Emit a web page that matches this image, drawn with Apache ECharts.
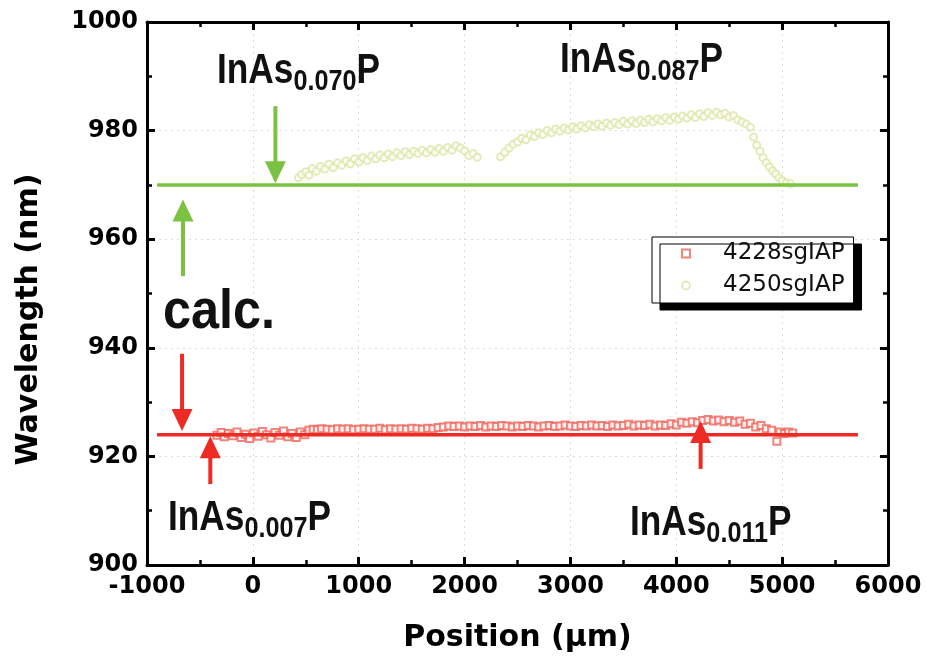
<!DOCTYPE html>
<html>
<head>
<meta charset="utf-8">
<script src="https://cdn.jsdelivr.net/npm/echarts@6/dist/echarts.min.js"></script>
<style>
  html, body { margin: 0; padding: 0; background: #fff; }
  #chart { width: 927px; height: 665px; }
</style>
</head>
<body>
<div id="chart"></div>
<script>
// Axis ranges
const xRange = [-1000, 6000];
const yRange = [900, 1000];

// Measured wavelength along the wafer, sample 4228sgIAP (µm, nm)
const sample4228 = [
  [-340, 923.9], [-300, 924.4], [-270, 923.6], [-230, 924.2], [-190, 923.8], [-150, 924.5],
  [-110, 923.5], [-70, 924.1], [-30, 923.3], [10, 924.3], [50, 923.7], [90, 924.6],
  [130, 924.0], [170, 923.4], [210, 924.4], [250, 923.9], [290, 924.7], [330, 923.6],
  [370, 924.2], [410, 923.5], [450, 924.5], [490, 924.0], [530, 924.8], [570, 925.0],
  [610, 924.9], [650, 925.1], [700, 925.0], [750, 924.9], [800, 925.1], [850, 925.0],
  [900, 925.1], [950, 924.9], [1000, 925.0], [1050, 925.1], [1100, 925.0], [1150, 925.0],
  [1200, 925.2], [1250, 924.9], [1300, 925.1], [1350, 925.0], [1400, 925.1], [1450, 925.0],
  [1500, 925.2], [1550, 925.1], [1600, 925.0], [1650, 925.2], [1700, 925.1], [1750, 925.3],
  [1800, 925.4], [1850, 925.6], [1900, 925.5], [1950, 925.6], [2000, 925.4], [2050, 925.6],
  [2100, 925.5], [2150, 925.7], [2200, 925.4], [2250, 925.6], [2300, 925.5], [2350, 925.7],
  [2400, 925.6], [2450, 925.4], [2500, 925.6], [2550, 925.5], [2600, 925.7], [2650, 925.6],
  [2700, 925.4], [2750, 925.6], [2800, 925.7], [2850, 925.5], [2900, 925.6], [2950, 925.8],
  [3000, 925.6], [3050, 925.5], [3100, 925.7], [3150, 925.6], [3200, 925.8], [3250, 925.6],
  [3300, 925.7], [3350, 925.5], [3400, 925.8], [3450, 925.6], [3500, 925.7], [3550, 925.9],
  [3600, 925.6], [3650, 925.8], [3700, 925.7], [3750, 925.9], [3800, 925.6], [3850, 925.8],
  [3900, 925.7], [3950, 926.0], [4000, 925.8], [4050, 926.3], [4100, 926.1], [4150, 926.4],
  [4200, 926.2], [4250, 926.6], [4300, 926.8], [4350, 926.5], [4400, 926.7], [4450, 926.4],
  [4500, 926.6], [4550, 926.3], [4600, 926.5], [4650, 925.9], [4700, 926.1], [4750, 925.4],
  [4800, 925.7], [4850, 925.1], [4900, 924.8], [4950, 922.8], [4980, 924.5], [5020, 924.2],
  [5060, 924.5], [5100, 924.3]
];

// Measured wavelength along the wafer, sample 4250sgIAP (µm, nm)
const sample4250 = [
  [430, 971.3], [460, 971.9], [500, 972.4], [530, 971.8], [560, 973.0], [600, 972.5],
  [640, 973.4], [680, 972.9], [720, 973.8], [760, 973.2], [800, 974.1], [840, 973.6],
  [880, 974.4], [920, 973.9], [960, 974.8], [1000, 974.2], [1040, 975.0], [1080, 974.5],
  [1120, 975.3], [1160, 974.8], [1200, 975.5], [1240, 975.0], [1280, 975.7], [1320, 975.2],
  [1360, 975.9], [1400, 975.4], [1440, 976.1], [1480, 975.6], [1520, 976.2], [1560, 975.8],
  [1600, 976.4], [1640, 975.9], [1680, 976.5], [1720, 976.0], [1760, 976.7], [1800, 976.2],
  [1840, 976.9], [1880, 976.4], [1920, 977.2], [1960, 976.8], [2000, 976.3], [2040, 975.4],
  [2080, 975.8], [2120, 975.1],
  [2340, 975.2], [2380, 976.0], [2420, 976.8], [2460, 977.5], [2500, 977.9], [2540, 978.6],
  [2580, 978.3], [2620, 979.2], [2660, 978.9], [2700, 979.6], [2740, 979.3], [2780, 980.0],
  [2820, 979.6], [2860, 980.3], [2900, 979.9], [2940, 980.5], [2980, 980.1], [3020, 980.7],
  [3060, 980.3], [3100, 980.9], [3140, 980.5], [3180, 981.1], [3220, 980.7], [3260, 981.2],
  [3300, 980.8], [3340, 981.4], [3380, 981.0], [3420, 981.5], [3460, 981.1], [3500, 981.7],
  [3540, 981.2], [3580, 981.8], [3620, 981.3], [3660, 981.9], [3700, 981.5], [3740, 982.1],
  [3780, 981.6], [3820, 982.2], [3860, 981.8], [3900, 982.4], [3940, 981.9], [3980, 982.5],
  [4020, 982.1], [4060, 982.7], [4100, 982.3], [4140, 982.9], [4180, 982.4], [4220, 983.1],
  [4260, 982.6], [4300, 983.3], [4340, 982.8], [4380, 983.4], [4420, 982.9], [4460, 983.2],
  [4500, 982.5], [4540, 982.8], [4580, 982.0], [4620, 981.6], [4660, 981.2], [4700, 980.6],
  [4730, 978.8], [4760, 977.3], [4790, 976.2], [4820, 975.0], [4850, 974.1], [4880, 973.3],
  [4910, 972.6], [4940, 972.0], [4970, 971.3], [5000, 970.8], [5040, 970.4], [5080, 970.2]
];

// Calculated wavelengths (nm) drawn as horizontal reference lines
const calcSpan = [-905, 5716];
const calcGreen = 970;
const calcRed = 924;

// Arrows: [x (µm), tail (nm), tip (nm)]
const arrowsGreen = [[213, 984.5, 970.3], [-660, 953.2, 967.3]];
const arrowsRed = [[-669, 938.9, 924.7], [-402, 914.9, 923.7], [4230, 917.7, 926.5]];

// Composition labels: anchor [x, y] of top-left corner, and subscript text
const formulaAnchors = [[-339, 994.8], [2901, 996.7], [-802, 912.4], [3562, 911.6]];
const formulaSubs = ['0.070', '0.087', '0.007', '0.011'];
const calcAnchor = [[-849, 946.4]];

const seriesNames = ['4228sgIAP', '4250sgIAP'];

const GREEN = '#7cc242';
const RED = '#ee2a24';
const INK = '#111111';
const LABEL_FONT = "'DejaVu Sans', 'Liberation Sans', sans-serif";
const ARIAL_FONT = "'Liberation Sans', Arial, sans-serif";

function lineFromSpan(y) {
  return [[calcSpan[0], y], [calcSpan[1], y]];
}

function arrowRenderer(color) {
  return function (params, api) {
    const x = api.value(0);
    const tail = api.coord([x, api.value(1)]);
    const tip = api.coord([x, api.value(2)]);
    const dir = tip[1] > tail[1] ? 1 : -1;
    const headLen = 22;
    const headHalf = 10.5;
    const baseY = tip[1] - dir * headLen;
    return {
      type: 'group',
      children: [
        {
          type: 'line',
          shape: { x1: tail[0], y1: tail[1], x2: tip[0], y2: baseY + dir * 2 },
          style: { stroke: color, lineWidth: 4 }
        },
        {
          type: 'polygon',
          shape: { points: [[tip[0], tip[1]], [tip[0] - headHalf, baseY], [tip[0] + headHalf, baseY]] },
          style: { fill: color }
        }
      ]
    };
  };
}

// Condensed bold chemical formula: InAs_x P with a lowered subscript
function formulaRenderer(params, api) {
  const p = api.coord([api.value(0), api.value(1)]);
  return {
    type: 'text',
    x: p[0],
    y: p[1],
    scaleX: 0.84,
    style: {
      text: '{m|InAs}{s|' + formulaSubs[params.dataIndex] + '}{m|P}',
      align: 'left',
      verticalAlign: 'top',
      fill: INK,
      rich: {
        m: { fontSize: 42, fontWeight: 'bold', fontFamily: ARIAL_FONT, lineHeight: 42, verticalAlign: 'top', fill: INK },
        s: { fontSize: 30, fontWeight: 'bold', fontFamily: ARIAL_FONT, lineHeight: 30, padding: [21, 0, 0, 0], fill: INK }
      }
    }
  };
}

function calcRenderer(params, api) {
  const p = api.coord([api.value(0), api.value(1)]);
  return {
    type: 'text',
    x: p[0],
    y: p[1],
    scaleX: 0.9,
    style: {
      text: 'calc.',
      align: 'left',
      verticalAlign: 'middle',
      fill: INK,
      fontSize: 56,
      fontWeight: 'bold',
      fontFamily: ARIAL_FONT
    }
  };
}

const plainNumber = v => String(v);
const tickLabel = { fontFamily: LABEL_FONT, fontWeight: 'bold', fontSize: 24, color: '#000', formatter: plainNumber };
const axisLine = { show: true, onZero: false, lineStyle: { color: '#000', width: 3 } };
const axisTick = { show: true, inside: true, length: 8, lineStyle: { color: '#000', width: 3 } };
const minorTick = { show: true, splitNumber: 2, length: 5, lineStyle: { color: '#000', width: 2.5 } };
const gridLine = { show: true, lineStyle: { type: [2, 4], color: '#dddddd', width: 1 } };

const chart = echarts.init(document.getElementById('chart'), null, { renderer: 'canvas' });

chart.setOption({
  backgroundColor: '#ffffff',
  animation: false,
  grid: { left: 147, right: 39, top: 22, bottom: 100, containLabel: false },
  legend: {
    data: seriesNames,
    orient: 'vertical',
    left: 652,
    top: 237,
    padding: [5, 9, 6, 29],
    itemWidth: 8,
    itemHeight: 8,
    itemGap: 9,
    backgroundColor: '#ffffff',
    borderColor: '#000',
    borderWidth: 1,
    shadowColor: '#000',
    shadowBlur: 0,
    shadowOffsetX: 8,
    shadowOffsetY: 7,
    textStyle: { fontFamily: LABEL_FONT, fontSize: 23, color: INK, lineHeight: 22, padding: [0, 0, 0, 28] }
  },
  xAxis: [
    {
      type: 'value', position: 'bottom', min: xRange[0], max: xRange[1], interval: 1000,
      axisLine, axisTick, minorTick,
      axisLabel: Object.assign({ margin: 10 }, tickLabel),
      splitLine: gridLine,
      name: 'Position (\u03bcm)', nameLocation: 'middle', nameGap: 58,
      nameTextStyle: { fontFamily: LABEL_FONT, fontWeight: 'bold', fontSize: 30, color: '#000' }
    },
    {
      type: 'value', position: 'top', min: xRange[0], max: xRange[1], interval: 1000,
      axisLine, axisTick, minorTick,
      axisLabel: { show: false }, splitLine: { show: false }
    }
  ],
  yAxis: [
    {
      type: 'value', position: 'left', min: yRange[0], max: yRange[1], interval: 20,
      axisLine, axisTick, minorTick,
      axisLabel: Object.assign({ margin: 9 }, tickLabel),
      splitLine: gridLine,
      name: 'Wavelength (nm)', nameLocation: 'middle', nameGap: 103,
      nameTextStyle: { fontFamily: LABEL_FONT, fontWeight: 'bold', fontSize: 30, color: '#000', padding: [0, 52, 0, 0] }
    },
    {
      type: 'value', position: 'right', min: yRange[0], max: yRange[1], interval: 20,
      axisLine, axisTick, minorTick,
      axisLabel: { show: false }, splitLine: { show: false }
    }
  ],
  series: [
    {
      name: seriesNames[0], type: 'scatter', data: sample4228, z: 2,
      symbol: 'emptyRect', symbolSize: 7,
      itemStyle: { color: '#f0645a', borderColor: '#f0645a', borderWidth: 1 }
    },
    {
      name: seriesNames[1], type: 'scatter', data: sample4250, z: 2,
      symbol: 'emptyCircle', symbolSize: 7,
      itemStyle: { color: '#dfe6a6', borderColor: '#dfe6a6', borderWidth: 1 }
    },
    {
      name: 'calc-green', type: 'line', data: lineFromSpan(calcGreen), z: 3,
      symbol: 'none', silent: true, lineStyle: { color: GREEN, width: 3.5 }
    },
    {
      name: 'calc-red', type: 'line', data: lineFromSpan(calcRed), z: 3,
      symbol: 'none', silent: true, lineStyle: { color: RED, width: 3.5 }
    },
    {
      name: 'arrows-green', type: 'custom', data: arrowsGreen, z: 4, silent: true, clip: false,
      encode: { x: 0, y: [1, 2] }, renderItem: arrowRenderer(GREEN)
    },
    {
      name: 'arrows-red', type: 'custom', data: arrowsRed, z: 4, silent: true, clip: false,
      encode: { x: 0, y: [1, 2] }, renderItem: arrowRenderer(RED)
    },
    {
      name: 'formulas', type: 'custom', data: formulaAnchors, z: 5, silent: true, clip: false,
      encode: { x: 0, y: 1 }, renderItem: formulaRenderer
    },
    {
      name: 'calc-label', type: 'custom', data: calcAnchor, z: 5, silent: true, clip: false,
      encode: { x: 0, y: 1 }, renderItem: calcRenderer
    }
  ]
});
</script>
</body>
</html>
